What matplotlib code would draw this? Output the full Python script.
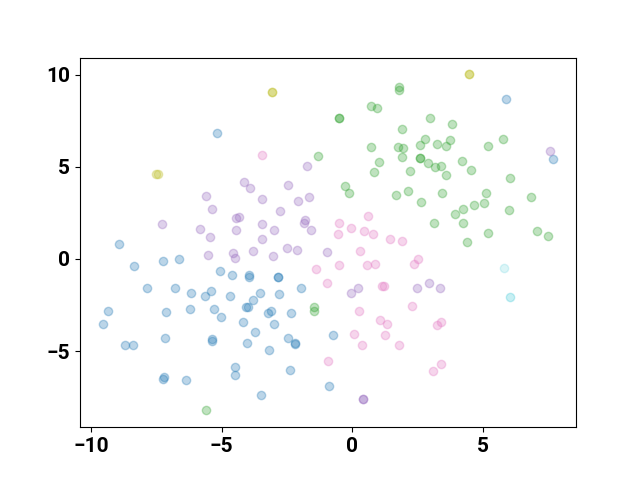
import matplotlib
matplotlib.use("Agg")
import matplotlib.pyplot as plt
from matplotlib.ticker import MultipleLocator

plt.rcParams['font.family'] = ['Roboto', 'DejaVu Sans']

blue_x = [5.89, 7.72, -5.17, -8.95, -8.36, -7.24, -6.63, -7.87, -6.79, -6.18, -5.63, -5.41, -5.06, -4.61,
          -3.95, -3.95, -4.70, -4.06, -4.00, -9.37, -9.57, -7.15, -6.23, -5.29, -5.01, -4.20, -7.16,
          -8.72, -8.42, -5.39, -5.36, -4.03, -4.49, -4.49, -7.23, -7.25, -6.36,
          -2.84, -2.84, -1.95, -3.55, -3.80, -2.82, -3.23, -3.11, -2.36, -3.00, -3.72,
          -2.44, -2.20, -2.20, -3.17, -0.73, -2.39, -0.87, -3.49]
blue_y = [8.66, 5.42, 6.83, 0.83, -0.36, -0.11, -0.02, -1.56, -1.59, -1.83, -2.01, -1.74, -0.63, -0.85,
          -0.89, -1.00, -2.01, -2.61, -2.61, -2.81, -3.53, -2.90, -2.70, -2.70, -3.15, -3.44, -4.29,
          -4.69, -4.69, -4.33, -4.46, -4.58, -5.85, -6.29, -6.40, -6.51, -6.56,
          -0.96, -0.97, -1.59, -1.87, -2.23, -1.92, -2.92, -2.83, -2.93, -3.53, -3.95,
          -4.29, -4.55, -4.64, -4.96, -4.15, -6.01, -6.92, -7.41]

green_x = [-5.59, -1.46, -1.46, 4.42, 1.80, 1.79, 0.73, 0.97, -0.50, -0.50, 1.93, 0.74, 1.76, 1.97,
           1.93, 1.03, 0.82, 2.22, -1.30, -0.28, -0.11, 1.69, 2.16, 2.98, 3.84, 2.78, 2.61,
           3.27, 3.60, 3.77, 5.21, 5.79, 2.62, 2.62, 2.91, 3.19, 3.42, 3.61, 4.21, 4.55, 6.04,
           3.44, 2.64, 5.12, 5.07, 4.69, 4.24, 3.96, 4.26, 3.14, 6.00, 6.86, 5.22, 7.10, 7.50]
green_y = [-8.22, -2.59, -2.81, 0.90, 9.33, 9.20, 8.28, 8.17, 7.68, 7.68, 7.05, 6.10, 6.09, 6.02,
           5.51, 5.27, 4.71, 4.78, 5.61, 3.98, 3.60, 3.48, 3.70, 7.65, 7.32, 6.52, 6.18,
           6.23, 6.16, 6.45, 6.16, 6.50, 5.47, 5.47, 5.20, 4.98, 5.05, 4.57, 5.31, 4.84, 4.42,
           3.60, 3.08, 3.57, 3.03, 2.95, 2.70, 2.43, 1.97, 1.96, 2.65, 3.35, 1.43, 1.50, 1.27]

purple_x = [7.59, -5.54, -4.55, -4.49, -3.80, -3.05, -2.48, -2.11, -0.98, -0.05, 0.22, 0.41, 0.41,
            2.50, 2.94, 3.38, -4.16, -3.91, -5.61, -5.39, -4.44, -4.32, -7.29, -5.82, -5.44, -4.44,
            -1.74, -2.46, -3.44, -2.08, -1.66, -2.78, -3.44, -2.99, -1.81, -1.85, -1.58, -3.47]
purple_y = [5.87, 0.20, 0.34, 0.04, 0.45, 0.15, 0.58, 0.49, 0.36, -1.83, -1.56, -7.61, -7.61,
            -1.56, -1.29, -1.58, 4.18, 3.88, 3.41, 2.70, 2.23, 2.30, 1.92, 1.65, 1.18, 1.56,
            5.05, 4.00, 3.24, 3.17, 3.35, 2.63, 1.92, 1.59, 2.14, 1.96, 1.59, 1.07]

pink_x = [0.32, -1.37, -0.52, 0.57, 0.88, -0.96, 1.16, 1.24, 0.27, 1.06, 1.35, 0.09, 0.37, 1.25, 1.81,
          -0.93, 2.52, 2.39, 2.29, 3.42, 3.27, 3.42, 3.10, -3.47, 0.61, -0.49, -0.05, -0.56, 0.45,
          0.80, 1.46, 1.92]
pink_y = [0.42, -0.56, -0.34, -0.31, -0.26, -1.32, -1.47, -1.47, -2.83, -3.32, -3.53, -4.09, -4.67,
          -4.15, -4.67, -5.56, 0.00, -0.26, -2.57, -3.41, -3.59, -5.72, -6.09, 5.67, 2.32, 1.94, 1.68,
          1.34, 1.50, 1.36, 1.10, 0.99]

olive_x = [-7.51, -7.43, -3.09, -3.09, 4.48, 4.48]
olive_y = [4.62, 4.62, 9.09, 9.09, 10.02, 10.02]

cyan_x = [5.84, 6.07]
cyan_y = [-0.49, -2.08]
cyan_alpha = [0.15, 0.24]

groups = [
    (blue_x, blue_y, 'tab:blue'),
    (green_x, green_y, 'tab:green'),
    (purple_x, purple_y, 'tab:purple'),
    (pink_x, pink_y, 'tab:pink'),
    (olive_x, olive_y, 'tab:olive'),
]

fig, ax = plt.subplots(figsize=(6.4, 4.8), dpi=100)
for gx, gy, c in groups:
    ax.scatter(gx, gy, c=c, alpha=0.3)
for cx, cy, a in zip(cyan_x, cyan_y, cyan_alpha):
    ax.scatter([cx], [cy], c='tab:cyan', alpha=a)

ax.xaxis.set_major_locator(MultipleLocator(5))
ax.yaxis.set_major_locator(MultipleLocator(5))

for lbl in ax.get_xticklabels() + ax.get_yticklabels():
    lbl.set_fontweight('bold')
    lbl.set_fontsize(15)

fig.savefig('out.png', dpi=100)
